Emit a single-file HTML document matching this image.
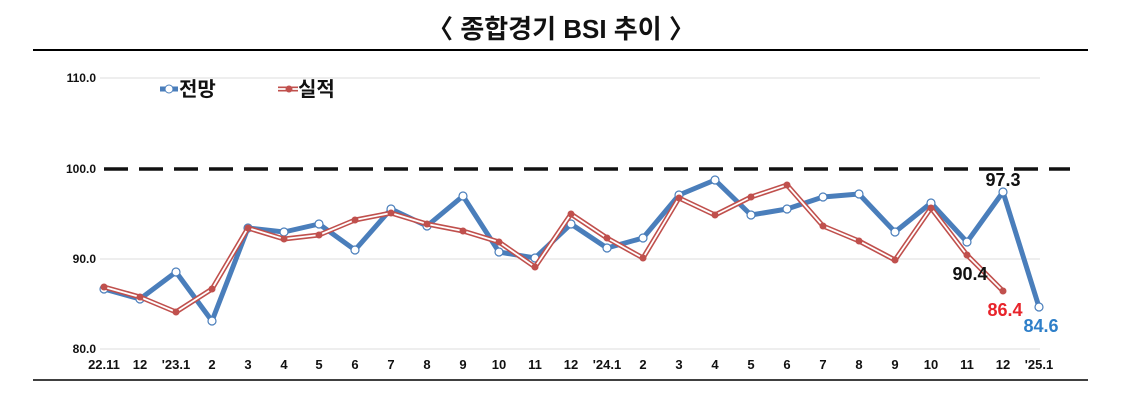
<!DOCTYPE html>
<html><head><meta charset="utf-8"><style>
body{margin:0;background:#fff;width:1123px;height:408px;overflow:hidden}
text{font-family:"Liberation Sans","Noto Sans CJK KR",sans-serif}
</style></head><body>
<svg width="1123" height="408" viewBox="0 0 1123 408">
<text x="561" y="38" text-anchor="middle" font-size="26" font-weight="bold" fill="#111">〈 종합경기 BSI 추이 〉</text>
<line x1="33" y1="50" x2="1088" y2="50" stroke="#000" stroke-width="2"/>
<line x1="33" y1="380" x2="1088" y2="380" stroke="#000" stroke-width="1.5"/>
<g stroke="#ddd" stroke-width="1">
<line x1="100" y1="78" x2="1040" y2="78"/>
<line x1="100" y1="259" x2="1040" y2="259"/>
<line x1="100" y1="349" x2="1040" y2="349"/>
</g>
<g font-size="12" fill="#111" text-anchor="end" font-weight="bold">
<text x="96" y="82">110.0</text><text x="96" y="173">100.0</text><text x="96" y="263">90.0</text><text x="96" y="353">80.0</text>
</g>
<line x1="104" y1="169" x2="1070" y2="169" stroke="#111" stroke-width="3.5" stroke-dasharray="24,11"/>
<g font-size="13" fill="#111" text-anchor="middle" font-weight="bold">
<text x="104" y="369">22.11</text><text x="140" y="369">12</text><text x="176" y="369">'23.1</text><text x="212" y="369">2</text><text x="248" y="369">3</text><text x="284" y="369">4</text><text x="319" y="369">5</text><text x="355" y="369">6</text><text x="391" y="369">7</text><text x="427" y="369">8</text><text x="463" y="369">9</text><text x="499" y="369">10</text><text x="535" y="369">11</text><text x="571" y="369">12</text><text x="607" y="369">'24.1</text><text x="643" y="369">2</text><text x="679" y="369">3</text><text x="715" y="369">4</text><text x="751" y="369">5</text><text x="787" y="369">6</text><text x="823" y="369">7</text><text x="859" y="369">8</text><text x="895" y="369">9</text><text x="931" y="369">10</text><text x="967" y="369">11</text><text x="1003" y="369">12</text><text x="1039" y="369">'25.1</text>
</g>
<polyline fill="none" stroke="#4a7ebb" stroke-width="5" stroke-linejoin="round" points="104,289 140,299 176,272 212,321 248,228 284,232 319,224 355,250 391,209 427,226 463,196 499,252 535,258 571,224 607,248 643,238 679,195 715,180 751,215 787,209 823,197 859,194 895,232 931,203 967,242 1003,192 1039,307"/>
<g fill="#fff" stroke="#4a7ebb" stroke-width="1.2">
<circle cx="104" cy="289" r="4"/><circle cx="140" cy="299" r="4"/><circle cx="176" cy="272" r="4"/><circle cx="212" cy="321" r="4"/><circle cx="248" cy="228" r="4"/><circle cx="284" cy="232" r="4"/><circle cx="319" cy="224" r="4"/><circle cx="355" cy="250" r="4"/><circle cx="391" cy="209" r="4"/><circle cx="427" cy="226" r="4"/><circle cx="463" cy="196" r="4"/><circle cx="499" cy="252" r="4"/><circle cx="535" cy="258" r="4"/><circle cx="571" cy="224" r="4"/><circle cx="607" cy="248" r="4"/><circle cx="643" cy="238" r="4"/><circle cx="679" cy="195" r="4"/><circle cx="715" cy="180" r="4"/><circle cx="751" cy="215" r="4"/><circle cx="787" cy="209" r="4"/><circle cx="823" cy="197" r="4"/><circle cx="859" cy="194" r="4"/><circle cx="895" cy="232" r="4"/><circle cx="931" cy="203" r="4"/><circle cx="967" cy="242" r="4"/><circle cx="1003" cy="192" r="4"/><circle cx="1039" cy="307" r="4"/>
</g>
<g fill="none" stroke-linejoin="round">
<polyline stroke="#c0504d" stroke-width="5" points="104,287 140,297 176,312 212,289 248,228 284,239 319,235 355,220 391,213 427,224 463,231 499,242 535,267 571,214 607,238 643,258 679,198 715,215 751,197 787,185 823,226 859,241 895,260 931,208 967,255 1003,291"/>
<polyline stroke="#fff" stroke-width="1.8" points="104,287 140,297 176,312 212,289 248,228 284,239 319,235 355,220 391,213 427,224 463,231 499,242 535,267 571,214 607,238 643,258 679,198 715,215 751,197 787,185 823,226 859,241 895,260 931,208 967,255 1003,291"/>
</g>
<g fill="#c0504d">
<circle cx="104" cy="287" r="3.5"/><circle cx="140" cy="297" r="3.5"/><circle cx="176" cy="312" r="3.5"/><circle cx="212" cy="289" r="3.5"/><circle cx="248" cy="228" r="3.5"/><circle cx="284" cy="239" r="3.5"/><circle cx="319" cy="235" r="3.5"/><circle cx="355" cy="220" r="3.5"/><circle cx="391" cy="213" r="3.5"/><circle cx="427" cy="224" r="3.5"/><circle cx="463" cy="231" r="3.5"/><circle cx="499" cy="242" r="3.5"/><circle cx="535" cy="267" r="3.5"/><circle cx="571" cy="214" r="3.5"/><circle cx="607" cy="238" r="3.5"/><circle cx="643" cy="258" r="3.5"/><circle cx="679" cy="198" r="3.5"/><circle cx="715" cy="215" r="3.5"/><circle cx="751" cy="197" r="3.5"/><circle cx="787" cy="185" r="3.5"/><circle cx="823" cy="226" r="3.5"/><circle cx="859" cy="241" r="3.5"/><circle cx="895" cy="260" r="3.5"/><circle cx="931" cy="208" r="3.5"/><circle cx="967" cy="255" r="3.5"/><circle cx="1003" cy="291" r="3.5"/>
</g>
<line x1="160" y1="89" x2="178" y2="89" stroke="#4a7ebb" stroke-width="5"/>
<circle cx="169" cy="89" r="4" fill="#fff" stroke="#4a7ebb"/>
<text x="179" y="96" font-size="20" font-weight="bold" fill="#111">전망</text>
<line x1="278" y1="89" x2="298" y2="89" stroke="#c0504d" stroke-width="5"/>
<line x1="278" y1="89" x2="298" y2="89" stroke="#fff" stroke-width="1.8"/>
<circle cx="289" cy="89" r="3.5" fill="#c0504d"/>
<text x="298" y="96" font-size="20" font-weight="bold" fill="#111">실적</text>
<text x="1003" y="186" font-size="18" font-weight="bold" fill="#111" text-anchor="middle">97.3</text>
<text x="970" y="280" font-size="18" font-weight="bold" fill="#111" text-anchor="middle">90.4</text>
<text x="1005" y="316" font-size="18" font-weight="bold" fill="#e8242b" text-anchor="middle">86.4</text>
<text x="1041" y="332" font-size="18" font-weight="bold" fill="#2e7fc9" text-anchor="middle">84.6</text>
</svg>
</body></html>
